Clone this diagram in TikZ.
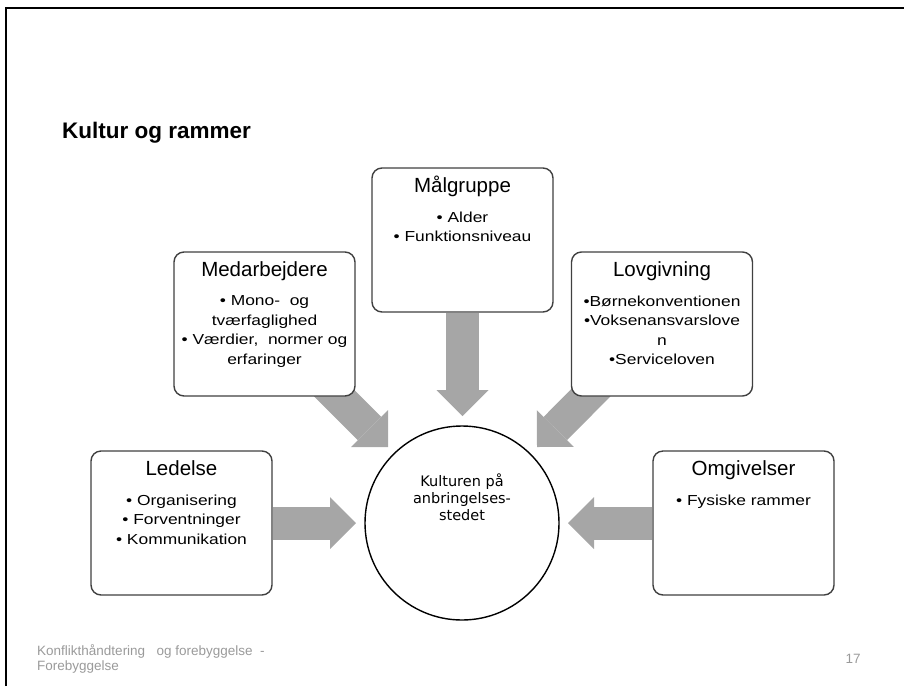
\documentclass[tikz,border=0pt]{standalone}
\usepackage{fontspec}
\setmainfont{Liberation Sans}
\newfontfamily\itemfont[FakeStretch=1.2]{Liberation Sans}
\newfontfamily\hubfont{DejaVu Sans}
\usetikzlibrary{positioning,arrows.meta,backgrounds,calc}
\usepackage{xcolor}
\definecolor{arrowgray}{HTML}{A6A6A6}
\definecolor{framegray}{HTML}{404040}
\definecolor{footgray}{HTML}{9A9A9A}

\begin{document}
\begin{tikzpicture}[
x=1pt, y=-1pt,
box/.style={
	rectangle, rounded corners=10pt,
	draw=framegray, line width=1.4pt, fill=white,
	minimum width=181pt, minimum height=144pt,
},
heading/.style={inner sep=0pt, text height=15pt, text depth=4pt, font=\fontsize{20.5}{24}\selectfont},
items/.style={inner sep=0pt, align=center, font=\itemfont\fontsize{14.5}{19.5}\selectfont},
hub/.style={circle, draw=black, line width=1.4pt, fill=white, minimum size=194pt, inner sep=0pt},
hubtext/.style={inner sep=0pt, align=center, font=\hubfont\fontsize{14.5}{17}\selectfont},
bigarrow/.style={draw=arrowgray, line width=33pt, -{Triangle[length=26pt,width=52pt,line width=0pt]}},
footer/.style={inner sep=0pt, align=left, text=footgray, font=\fontsize{13.5}{15.5}\selectfont},
]
\useasboundingbox (0,0) rectangle (904,686);
% slide frame
\draw[line width=2pt] (6,686) -- (6,8) -- (904,8);

\node[anchor=base west, inner sep=0pt, font=\bfseries\fontsize{22.5}{26}\selectfont] (title) at (62,138) {Kultur og rammer};

% boxes
\node[box] (med) at (264.5,324) {};
\node[box] (mal) at (462.5,240) {};
\node[box] (lov) at (662,324) {};
\node[box] (led) at (181.5,523) {};
\node[box] (omg) at (743.5,523) {};
\node[hub] (hub) at (462,523) {};

\node[heading, below=10pt of med.north] (medT) {Medarbejdere};
\node[items, below=15pt of medT] (medL) {%
    • Mono-\ \ og\\ tværfaglighed\\
    • Værdier,\ \ normer og\\ erfaringer};

\node[heading, below=10pt of mal.north] (malT) {Målgruppe};
\node[items, below=15pt of malT] (malL) {%
    • Alder\\
    • Funktionsniveau};

\node[heading, below=10pt of lov.north] (lovT) {Lovgivning};
\node[items, below=15pt of lovT] (lovL) {%
    •Børnekonventionen\\
    •Voksenansvarslove\\ n\\
    •Serviceloven};

\node[heading, below=10pt of led.north] (ledT) {Ledelse};
\node[items, below=15pt of ledT] (ledL) {%
    • Organisering\\
    • Forventninger\\
    • Kommunikation};

\node[heading, below=10pt of omg.north] (omgT) {Omgivelser};
\node[items, below=15pt of omgT] (omgL) {%
    • Fysiske rammer};

\node[hubtext] (hubT) at ([yshift=26pt]hub.center) {Kulturen på\\ anbringelses-\\ stedet};

% arrow tips
\coordinate (medTip) at (388,447);
\coordinate (malTip) at (462.5,416);
\coordinate (lovTip) at (537,447);
\coordinate (ledTip) at (356,523);
\coordinate (omgTip) at (568,523);

\begin{scope}[on background layer]
    \draw[bigarrow] ($(med.south east)+(-30,-12)$) -- (medTip);
    \draw[bigarrow] (mal.south) -- (malTip);
    \draw[bigarrow] ($(lov.south west)+(28,-12)$) -- (lovTip);
    \draw[bigarrow] (led.east) -- (ledTip);
    \draw[bigarrow] (omg.west) -- (omgTip);
\end{scope}

\node[footer, anchor=north west] (foot) at (37,644) {Konflikthåndtering\ \ \ og forebyggelse\ \ -\\ Forebyggelse};
\node[footer] (pagenum) at (853,659) {17};
\end{tikzpicture}
\end{document}
